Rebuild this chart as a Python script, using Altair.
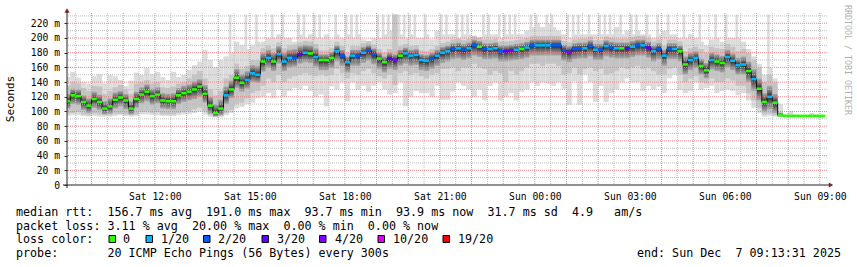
import altair as alt
import pandas as pd

# ---------------- data (10-minute bins from Sat 09:10 UTC) ----------------
MED = [114,122,121,113,108,117,113,104,107,116,119,115,104,117,123,127,121,123,115,114,114,122,125,127,130,134,
       124,108,98,104,122,130,146,139,143,152,150,168,173,168,178,168,173,173,178,180,179,174,
       170,170,173,182,176,167,176,176,180,183,178,172,167,172,170,176,179,176,177,170,169,172,176,180,
       182,185,186,184,186,190,188,185,185,186,182,182,183,184,185,187,190,190,190,190,190,190,183,181,
       185,186,186,189,184,184,189,187,186,186,186,188,190,190,187,182,185,176,185,185,182,164,170,173,
       162,156,170,168,166,174,169,163,164,155,144,131,113,120,112,95,94,94,94,94,94,94,94,94]

LOSS = [0,0,0,0,0,0,0,0,0,0,0,0,0,0,0,0,0,0,0,0,0,0,0,0,0,0,0,0,0,0,
        1,0,0,0,1,1,1,0,1,0,1,1,1,2,3,1,0,1,
        0,0,0,1,2,1,1,2,1,2,2,0,0,3,4,0,1,1,1,1,1,2,1,1,
        1,2,1,2,1,2,0,2,1,1,2,3,4,1,0,1,2,1,1,1,2,2,2,4,
        2,2,1,2,1,2,1,2,1,0,3,1,2,1,3,1,2,1,2,1,0,0,1,1,
        0,0,1,0,0,1,1,1,1,0,1,0,0,1,0,0,0,0,0,0,0,0,0,0]

DLO = [104,110,109,102,98,105,102,96,97,104,107,103,96,105,111,114,109,111,104,103,103,110,113,115,117,120,
       112,97,93,95,110,118,132,127,131,140,139,154,160,155,165,155,160,161,165,167,166,161,
       156,156,159,168,162,153,162,162,166,169,164,158,153,158,156,162,165,162,163,156,155,158,162,166,
       168,171,172,170,172,176,174,171,171,172,168,168,169,170,171,173,176,176,176,176,176,176,169,167,
       171,172,172,175,170,170,175,173,172,172,172,174,176,176,173,168,171,162,171,171,168,150,156,159,
       150,145,157,155,153,160,156,150,150,140,128,115,100,103,98,93,93,93,93,93,93,93,93,93]

DHI = [124,131,130,122,118,127,123,114,118,126,128,124,114,127,133,137,131,133,125,124,125,132,135,137,141,144,
       136,120,110,116,134,142,158,151,155,163,162,180,184,180,189,180,184,185,189,191,190,186,
       178,178,181,190,184,175,184,184,188,191,186,180,175,180,178,184,187,184,185,178,177,180,184,188,
       190,193,194,192,194,198,196,193,193,194,190,190,191,192,193,195,198,198,198,198,198,198,191,189,
       193,194,194,197,192,192,197,195,194,194,194,196,198,198,195,190,193,184,193,193,190,175,180,182,
       172,166,180,178,176,184,179,173,175,168,158,145,125,135,124,98,95,95,95,95,95,95,95,95]

MLO = [97,98,99,96,95,97,96,95,95,97,97,96,95,96,99,100,98,99,96,96,96,98,99,100,103,105,
       100,95,94,94,98,102,110,112,118,125,128,135,145,140,150,140,145,148,150,152,150,148,
       150,148,150,158,152,145,152,150,155,158,152,148,145,150,136,152,155,150,152,148,145,150,152,158,
       158,160,155,160,160,165,160,158,150,155,152,140,155,150,155,160,165,165,162,165,165,162,150,152,
       160,150,158,160,155,158,150,152,155,160,158,160,162,158,160,155,150,150,158,160,150,140,145,148,
       140,138,145,140,140,145,142,135,135,125,115,105,96,97,95,93,93,93,93,93,93,93,93,93]

MHI = [135,140,138,132,128,135,134,124,128,133,136,130,124,138,140,143,138,140,133,132,134,138,140,145,150,155,
       145,130,122,128,145,150,165,158,162,170,170,186,190,186,194,186,190,191,194,196,195,192,
       183,183,186,195,189,180,189,189,193,196,191,185,180,185,232,189,192,189,190,183,182,185,189,193,
       195,198,199,197,199,203,201,198,198,199,195,195,196,197,198,200,203,203,203,203,203,203,196,194,
       198,199,199,202,197,197,202,200,199,199,199,201,203,203,200,195,198,189,198,198,195,182,186,188,
       185,180,188,186,185,192,188,182,185,180,170,160,140,150,140,100,95,95,95,95,95,95,95,95]

LLO = [94,95,95,94,93,94,93,93,93,94,95,94,93,94,96,96,95,95,94,94,94,95,96,96,98,100,
       96,93,92,92,95,98,104,106,110,112,118,120,125,118,130,120,128,132,130,135,128,120,
       123,107,134,130,140,114,140,129,135,127,135,140,130,123,125,140,107,120,128,125,125,120,135,116,
       116,127,140,135,130,120,130,115,135,140,115,120,125,115,127,130,140,135,140,138,135,140,131,109,
       141,109,150,140,113,135,113,125,130,140,145,140,140,128,135,130,134,125,145,150,129,125,128,140,
       129,132,135,125,128,130,128,122,125,115,105,98,93,94,93,92,93,93,93,93,93,93,93,93]

LHI = [147,154,146,140,138,148,151,138,150,148,143,135,142,153,150,159,151,154,147,143,154,147,150,157,163,168,
       184,170,160,170,175,180,195,190,185,190,195,195,200,200,205,200,200,195,205,200,205,200,
       200,205,198,205,200,205,200,205,198,195,200,200,205,210,232,205,200,205,200,200,205,198,210,205,
       205,205,200,205,205,200,198,205,205,205,200,205,205,205,205,210,215,220,215,220,215,210,205,200,
       205,205,205,205,205,205,205,205,215,205,210,205,210,205,205,200,205,210,205,205,200,200,205,200,
       195,190,198,200,195,200,200,200,195,185,175,165,150,160,145,110,97,101,96,95,95,98,96,95]

# top of the single 5-minute spikes that reach the top of the graph (None = no spike)
N = None
SPK = [N,N,N,N,N,N,N,N,N,N,N,N,N,N,N,N,N,N,N,N,N,N,N,N,N,N,
       N,N,N,N,N,232,N,N,232,N,232,N,N,232,N,232,N,N,232,232,N,232,
       232,N,N,232,N,232,232,232,N,N,N,232,232,232,N,232,232,232,232,N,232,N,N,232,
       232,N,232,232,232,N,N,232,232,N,232,232,232,232,N,N,232,232,N,232,232,N,N,232,
       232,232,N,232,N,232,232,232,N,232,N,232,232,N,232,N,232,N,232,N,N,232,N,N,
       232,N,N,232,N,232,N,232,N,N,N,N,N,232,N,N,N,N,N,N,N,N,N,N]

for arr in (MED, LOSS, DLO, DHI, MLO, MHI, LLO, LHI, SPK):
    assert len(arr) == 144, len(arr)

LOSS_LEVELS = [0, 1, 2, 3, 4, 10, 19]
LOSS_LABELS = ["0", "1/20", "2/20", "3/20", "4/20", "10/20", "19/20"]
LOSS_COLORS = ["#26ff00", "#00b8ff", "#0059ff", "#5e00ff", "#7e00ff", "#dd00ff", "#ff0000"]

Y_TICKS = [0, 20, 40, 60, 80, 100, 120, 140, 160, 180, 200, 220]
Y_MINOR = [10, 30, 50, 70, 90, 110, 130, 150, 170, 190, 210, 230]
X_TICKS = ["2025-12-06T12:00:00Z", "2025-12-06T15:00:00Z", "2025-12-06T18:00:00Z",
           "2025-12-06T21:00:00Z", "2025-12-07T00:00:00Z", "2025-12-07T03:00:00Z",
           "2025-12-07T06:00:00Z", "2025-12-07T09:00:00Z"]

LINE1 = "median rtt:  156.7 ms avg  191.0 ms max  93.7 ms min  93.9 ms now  31.7 ms sd  4.9   am/s"
LINE2 = "packet loss: 3.11 % avg  20.00 % max  0.00 % min  0.00 % now"
LINE3 = "loss color:"
LINE4 = "probe:       20 ICMP Echo Pings (56 Bytes) every 300s"
END_TXT = "end: Sun Dec  7 09:13:31 2025"
WATERMARK = "RRDTOOL / TOBI OETIKER"

# ---------------- build tables ----------------
def ms(s):
    return int(pd.Timestamp(s).value // 10**6)

START = ms("2025-12-06T09:13:31Z")
END = ms("2025-12-07T09:13:31Z")
BIN0 = ms("2025-12-06T09:10:00Z")
STEP = 600000

df = pd.DataFrame({
    "t0": [BIN0 + i * STEP for i in range(144)],
    "th": [BIN0 + i * STEP + STEP // 2 for i in range(144)],
    "t1": [BIN0 + (i + 1) * STEP for i in range(144)],
    "med": MED, "loss": LOSS, "dlo": DLO, "dhi": DHI,
    "mlo": MLO, "mhi": MHI, "llo": LLO, "lhi": LHI, "spk": SPK,
})
spikes = df[df["spk"].notna()].copy()

hours = pd.date_range("2025-12-06T10:00:00Z", "2025-12-07T09:00:00Z", freq="1h")
halves = pd.date_range("2025-12-06T09:30:00Z", "2025-12-07T08:30:00Z", freq="1h")
grid_major_x = pd.DataFrame({"t": [int(h.value // 10**6) for h in hours]})
grid_minor_x = pd.DataFrame({"t": [int(h.value // 10**6) for h in halves]})
grid_major_y = pd.DataFrame({"v": Y_TICKS[1:]})
grid_minor_y = pd.DataFrame({"v": Y_MINOR})

MONO = "DejaVu Sans Mono"
NB = "\u00a0"
W, H = 760, 172
OX, OY = 67, 13  # plot origin in the page

xs = alt.Scale(type="utc", domain=[START, END])
ys = alt.Scale(domain=[0, 234], nice=False, zero=False)

AX = alt.Axis(values=[ms(t) for t in X_TICKS], format="%a %H:%M", labelFont=MONO, labelFontSize=9.7,
              labelColor="#000000", ticks=False, domain=False, grid=False, labelPadding=6.5,
              title=None, labelFlush=False, labelOverlap=False)
AY = alt.Axis(values=Y_TICKS, labelExpr=f"datum.value == 0 ? '0{NB}{NB}' : datum.value + '{NB}m'",
              labelFont=MONO, labelFontSize=9.7, labelColor="#000000", ticks=True, tickSize=3,
              tickColor="#333333", domain=False, grid=False, labelPadding=4.5, title=None)

def X(f):
    return alt.X(f, scale=xs, axis=AX)

def Y(f):
    return alt.Y(f, scale=ys, axis=AY)

base = alt.Chart(df)

light = base.mark_rect(color="#dcdcdc", clip=True).encode(
    x=X("t0:T"), x2="t1:T", y=Y("llo:Q"), y2="lhi:Q")
spike = alt.Chart(spikes).mark_rect(color="#dcdcdc", clip=True).encode(
    x=X("t0:T"), x2="th:T", y=Y("mhi:Q"), y2="spk:Q")

medium = base.mark_rect(color="#c4c4c4", clip=True).encode(
    x=X("t0:T"), x2="t1:T", y=Y("mlo:Q"), y2="mhi:Q")

grad_low = alt.LinearGradient(gradient="linear", x1=0, y1=1, x2=0, y2=0, stops=[
    alt.GradientStop(offset=0, color="#ababab"),
    alt.GradientStop(offset=0.55, color="#6c6c6c"),
    alt.GradientStop(offset=1, color="#1e1e1e")])
grad_high = alt.LinearGradient(gradient="linear", x1=0, y1=0, x2=0, y2=1, stops=[
    alt.GradientStop(offset=0, color="#ababab"),
    alt.GradientStop(offset=0.55, color="#6c6c6c"),
    alt.GradientStop(offset=1, color="#1e1e1e")])

dark_low = base.mark_rect(color=grad_low, clip=True).encode(
    x=X("t0:T"), x2="t1:T", y=Y("dlo:Q"), y2="med:Q")
dark_high = base.mark_rect(color=grad_high, clip=True).encode(
    x=X("t0:T"), x2="t1:T", y=Y("med:Q"), y2="dhi:Q")

gx_minor = alt.Chart(grid_minor_x).mark_rule(color="#bdbdbd", strokeDash=[1, 1], strokeWidth=1).encode(x=X("t:T"))
gy_minor = alt.Chart(grid_minor_y).mark_rule(color="#bdbdbd", strokeDash=[1, 1], strokeWidth=1).encode(y=Y("v:Q"))
gx_major = alt.Chart(grid_major_x).mark_rule(color="#e08888", strokeDash=[1, 1], strokeWidth=1).encode(x=X("t:T"))
gy_major = alt.Chart(grid_major_y).mark_rule(color="#e08888", strokeDash=[1, 1], strokeWidth=1).encode(y=Y("v:Q"))

step_line = base.mark_line(interpolate="step-after", color="#111111", strokeWidth=1, clip=True).encode(
    x=X("t0:T"), y=Y("med:Q"))

med_seg = base.mark_rule(strokeWidth=2.6, clip=True).encode(
    x=X("t0:T"), x2="t1:T", y=Y("med:Q"),
    color=alt.Color("loss:O", scale=alt.Scale(domain=LOSS_LEVELS, range=LOSS_COLORS), legend=None))

# ---------------- axis lines, arrows, texts ----------------
ann = alt.Chart(pd.DataFrame({"d": [0]}))

def txt(s, x, y, align="left", size=11.7, color="#000000", angle=None, baseline="alphabetic"):
    kw = dict(align=align, baseline=baseline, font=MONO, fontSize=size, color=color)
    if angle is not None:
        kw["angle"] = angle
    return ann.mark_text(**kw).encode(x=alt.value(x - OX), y=alt.value(y - OY),
                                      text=alt.value(s.replace(" ", NB)))

y_axis_line = ann.mark_rule(color="#222222", strokeWidth=1).encode(
    x=alt.value(0), y=alt.value(12 - OY), y2=alt.value(188 - OY))
x_axis_line = ann.mark_rule(color="#222222", strokeWidth=1).encode(
    x=alt.value(63 - OX), x2=alt.value(830 - OX), y=alt.value(185 - OY))
y_arrow = ann.mark_point(shape="triangle-up", filled=True, size=26, color="#7f1f1f", opacity=1).encode(
    x=alt.value(0), y=alt.value(10.5 - OY))
x_arrow = ann.mark_point(shape="triangle-right", filled=True, size=26, color="#7f1f1f", opacity=1).encode(
    x=alt.value(831 - OX), y=alt.value(185 - OY))

texts = [
    txt("Seconds", 11, 99, align="center", size=11, angle=270, baseline="middle"),
    txt(WATERMARK, 847, 60, align="center", size=8.3, color="#b0b0b0", angle=90, baseline="middle"),
    txt(LINE1, 16, 216),
    txt(LINE2, 16, 229.7),
    txt(LINE3, 16, 243.4),
    txt(LINE4, 16, 257),
    txt(END_TXT, 841, 257, align="right"),
]

SQ_X = [109, 146, 203.5, 262, 319.5, 378, 443]
LB_X = [123, 161, 218, 277, 335, 393, 458]
legend_layers = []
for sx, lx, lab, col in zip(SQ_X, LB_X, LOSS_LABELS, LOSS_COLORS):
    legend_layers.append(ann.mark_rect(fill=col, stroke="#000000", strokeWidth=1).encode(
        x=alt.value(sx - OX), x2=alt.value(sx + 6.5 - OX),
        y=alt.value(235.5 - OY), y2=alt.value(242.5 - OY)))
    legend_layers.append(txt(lab, lx, 243.4))

chart = alt.layer(
    light, spike, medium, dark_low, dark_high,
    gx_minor, gy_minor, gx_major, gy_major,
    step_line, med_seg,
    y_axis_line, x_axis_line, y_arrow, x_arrow,
    *texts, *legend_layers,
).properties(
    width=W, height=H,
    padding={"left": OX, "top": OY, "right": 857 - OX - W, "bottom": 267 - OY - H},
    autosize=alt.AutoSizeParams(type="none"),
    background="#ffffff",
).configure_view(stroke=None)

chart.save("out.html", embed_options={"renderer": "svg", "actions": False})
